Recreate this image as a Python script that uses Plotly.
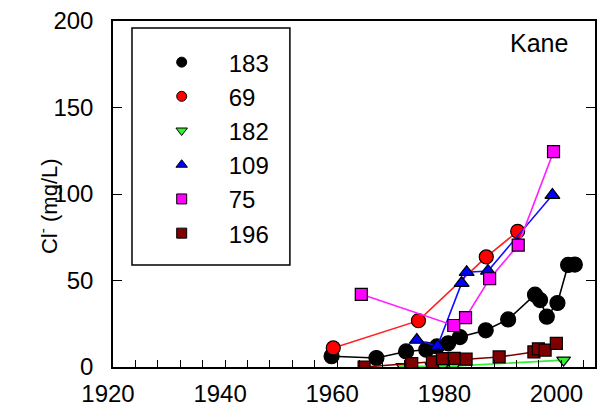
import plotly.graph_objects as go

# ---- data ----
names = ["183", "69", "182", "109", "75", "196"]

yr_183 = [1959.0, 1967.0, 1972.3, 1975.9, 1977.8, 1979.8, 1981.9, 1986.5, 1990.5, 1995.3, 1996.2, 1997.4, 1999.3, 2001.2, 2002.4]
cl_183 = [6.2, 5.2, 9.0, 10.0, 11.9, 13.7, 17.3, 21.2, 27.5, 41.8, 38.7, 29.1, 37.0, 59.0, 59.2]

yr_69 = [1959.3, 1974.5, 1986.6, 1992.2]
cl_69 = [11.0, 26.8, 63.6, 78.4]

yr_182 = [1971.7, 1976.9, 1978.8, 1980.8, 2000.4]
cl_182 = [0.3, 0.3, 0.5, 0.5, 4.0]

yr_109 = [1974.2, 1977.9, 1982.2, 1983.1, 1986.9, 1998.4]
cl_109 = [15.6, 12.1, 48.5, 54.8, 55.5, 99.4]

yr_75 = [1964.3, 1980.8, 1982.9, 1987.2, 1992.3, 1998.6]
cl_75 = [42.0, 24.0, 28.5, 51.0, 70.5, 124.5]

yr_196 = [1964.8, 1973.3, 1977.0, 1978.8, 1980.9, 1983.0, 1988.9, 1995.1, 1995.9, 1997.1, 1999.1]
cl_196 = [0.0, 2.0, 3.0, 4.8, 5.0, 4.5, 5.8, 8.7, 10.5, 9.8, 13.7]

x_range = [1920, 2006]
y_range = [0, 200]
x_major = 20
x_minor = 4
y_major = 50

# ---- styles ----
series = [
    (names[0], yr_183, cl_183, "circle", "#000000", "#000000", 15),
    (names[1], yr_69, cl_69, "circle", "#ff0000", "#ff2020", 14),
    (names[2], yr_182, cl_182, "triangle-down", "#33ee33", "#33ee33", 12),
    (names[3], yr_109, cl_109, "triangle-up", "#0000ff", "#1010ff", 13),
    (names[4], yr_75, cl_75, "square", "#ff00ff", "#ff20ff", 12),
    (names[5], yr_196, cl_196, "square", "#800000", "#800000", 12),
]

fig = go.Figure()
for nm, xs, ys, sym, fc, lc, sz in series:
    fig.add_trace(go.Scatter(
        x=xs, y=ys, mode="lines+markers", name=nm, showlegend=False,
        line=dict(color=lc, width=1.6),
        marker=dict(symbol=sym, size=sz, color=fc, line=dict(color="#000000", width=1.2)),
    ))
for nm, xs, ys, sym, fc, lc, sz in series:
    fig.add_trace(go.Scatter(
        x=[None], y=[None], mode="markers", name=nm + "\u00a0\u00a0",
        marker=dict(symbol=sym, size=10, color=fc, line=dict(color="#000000", width=1)),
    ))

font_family = "Liberation Sans, Arial, sans-serif"
fig.update_layout(
    width=608, height=413,
    margin=dict(l=113, r=13, t=21, b=46, autoexpand=False),
    paper_bgcolor="white", plot_bgcolor="white",
    font=dict(family=font_family, size=24, color="#000000"),
    showlegend=True,
    legend=dict(
        x=0.045, y=0.945, xanchor="left", yanchor="top",
        borderwidth=0, bgcolor="rgba(0,0,0,0)",
        font=dict(size=24), itemwidth=84, tracegroupgap=0,
    ),
    xaxis=dict(
        range=x_range, dtick=x_major, tick0=1920, automargin=False,
        ticks="inside", ticklen=7, tickwidth=1.2, tickcolor="#000000",
        minor=dict(dtick=x_minor, ticks="inside", ticklen=7, tickwidth=1.2, tickcolor="#000000"),
        showline=True, linecolor="#000000", linewidth=1.5, mirror=True,
        showgrid=False, zeroline=False, tickfont=dict(size=24),
        ticklabelshift=-5, ticklabelstandoff=4,
    ),
    yaxis=dict(
        range=y_range, dtick=y_major, tick0=0, automargin=False,
        ticks="inside", ticklen=9, tickwidth=1.2, tickcolor="#000000",
        showline=True, linecolor="#000000", linewidth=1.5, mirror="ticks",
        showgrid=False, zeroline=False, tickfont=dict(size=24),
        ticklabelstandoff=13,
    ),
    shapes=[dict(
        type="rect", xref="paper", yref="paper",
        x0=0.0394, x1=0.367, y0=0.295, y1=0.98,
        line=dict(color="#000000", width=1.5), fillcolor="rgba(0,0,0,0)", layer="above",
    )],
    annotations=[
        dict(x=0.948, y=0.935, xref="paper", yref="paper", text="Kane",
             showarrow=False, xanchor="right", yanchor="middle", font=dict(size=25)),
        dict(x=-0.135, y=0.465, xref="paper", yref="paper", text="Cl<sup>-</sup> (mg/L)",
             textangle=-90, showarrow=False, xanchor="center", yanchor="middle",
             font=dict(size=22)),
    ],
)
fig.write_html("out.html")
